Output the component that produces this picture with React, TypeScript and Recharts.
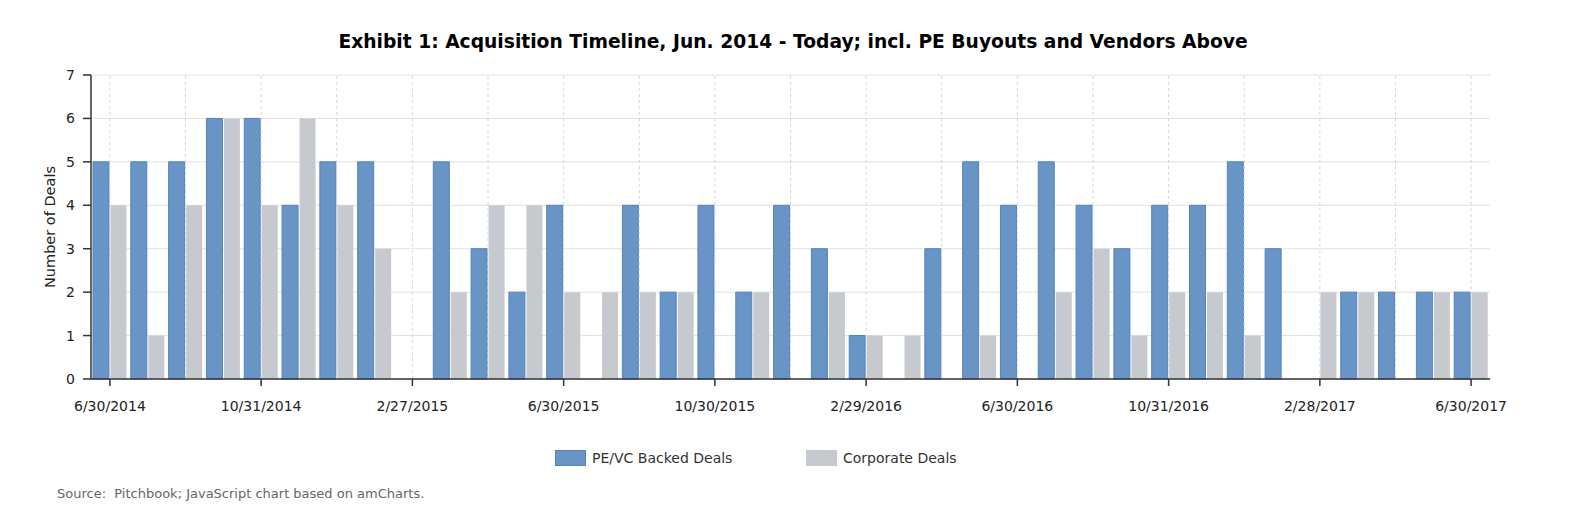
import React from 'react';
import { BarChart, Bar, XAxis, YAxis, CartesianGrid, ReferenceLine } from 'recharts';

const months = [
  "6/30/2014", "7/31/2014", "8/31/2014", "9/30/2014", "10/31/2014", "11/30/2014", "12/31/2014",
  "1/31/2015", "2/27/2015", "3/31/2015", "4/30/2015", "5/31/2015", "6/30/2015", "7/31/2015",
  "8/31/2015", "9/30/2015", "10/30/2015", "11/30/2015", "12/31/2015", "1/31/2016", "2/29/2016",
  "3/31/2016", "4/30/2016", "5/31/2016", "6/30/2016", "7/31/2016", "8/31/2016", "9/30/2016",
  "10/31/2016", "11/30/2016", "12/31/2016", "1/31/2017", "2/28/2017", "3/31/2017", "4/30/2017",
  "5/31/2017", "6/30/2017",
];
const peVcDeals = [5, 5, 5, 6, 6, 4, 5, 5, 0, 5, 3, 2, 4, 0, 4, 2, 4, 2, 4, 3, 1, 0, 3, 5, 4, 5, 4, 3, 4, 4, 5, 3, 0, 2, 2, 2, 2];
const corporateDeals = [4, 1, 4, 6, 4, 6, 4, 3, 0, 2, 4, 4, 2, 2, 2, 2, 0, 2, 0, 2, 1, 1, 0, 1, 0, 2, 3, 1, 2, 2, 1, 0, 2, 2, 0, 2, 2];
const yTicks = [0, 1, 2, 3, 4, 5, 6, 7];

const data = months.map((m, i) => ({ month: m, pe: peVcDeals[i], corp: corporateDeals[i] }));
const gridMonths = months.filter((_, i) => i % 2 === 0);

const FONT = '"DejaVu Sans", Verdana, sans-serif';
const BLUE = '#6894c6';
const BLUE_STROKE = '#5283bf';
const GRAY = '#c6cacf';

export default function App() {
  return (
    <div style={{ position: 'absolute', left: 0, top: 0, width: 1571, height: 528, background: '#fff', fontFamily: FONT }}>
      <div style={{ position: 'absolute', left: 793, top: 30, transform: 'translateX(-50%)', whiteSpace: 'nowrap', fontWeight: 'bold', fontSize: 18.7, lineHeight: '24px', color: '#000' }}>
        Exhibit 1: Acquisition Timeline, Jun. 2014 - Today; incl. PE Buyouts and Vendors Above
      </div>
      <BarChart
        width={1571}
        height={528}
        data={data}
        margin={{ top: 75, right: 81, bottom: 109, left: 0 }}
        barCategoryGap={2}
        barGap={1.5}
      >
        <CartesianGrid horizontal vertical={false} stroke="#e2e2e2" strokeWidth={1} />
        {gridMonths.map((m) => (
          <ReferenceLine key={m} x={m} stroke="#d6d6d6" strokeDasharray="3 3" />
        ))}
        <XAxis
          dataKey="month"
          interval={3}
          height={40}
          axisLine={{ stroke: '#333', strokeWidth: 1.5 }}
          tickLine={{ stroke: '#333', strokeWidth: 1.5 }}
          tickSize={7}
          tickMargin={15}
          tick={{ fill: '#222', fontSize: 14, fontFamily: FONT }}
        />
        <YAxis
          domain={[0, 7]}
          ticks={yTicks}
          width={91}
          interval={0}
          axisLine={{ stroke: '#333', strokeWidth: 1.5 }}
          tickLine={{ stroke: '#333', strokeWidth: 1.5 }}
          tickSize={8}
          tickMargin={8}
          tick={{ fill: '#222', fontSize: 14, fontFamily: FONT }}
          label={{ value: 'Number of Deals', angle: -90, position: 'insideLeft', offset: 0, dx: 50, style: { fill: '#222', fontSize: 14.5, fontFamily: FONT, textAnchor: 'middle' } }}
        />
        <Bar dataKey="pe" name="PE/VC Backed Deals" fill={BLUE} stroke={BLUE_STROKE} strokeWidth={1} isAnimationActive={false} />
        <Bar dataKey="corp" name="Corporate Deals" fill={GRAY} isAnimationActive={false} />
      </BarChart>
      <div style={{ position: 'absolute', left: 555, top: 450, width: 31, height: 16, background: BLUE, boxSizing: 'border-box', border: `1px solid ${BLUE_STROKE}` }} />
      <div style={{ position: 'absolute', left: 592, top: 449, fontSize: 14, color: '#333', whiteSpace: 'nowrap', lineHeight: '18px' }}>PE/VC Backed Deals</div>
      <div style={{ position: 'absolute', left: 806, top: 450, width: 31, height: 16, background: GRAY }} />
      <div style={{ position: 'absolute', left: 843, top: 449, fontSize: 14, color: '#333', whiteSpace: 'nowrap', lineHeight: '18px' }}>Corporate Deals</div>
      <div style={{ position: 'absolute', left: 57, top: 485, fontSize: 13, color: '#666', whiteSpace: 'pre', lineHeight: '18px' }}>Source:  Pitchbook; JavaScript chart based on amCharts.</div>
    </div>
  );
}
